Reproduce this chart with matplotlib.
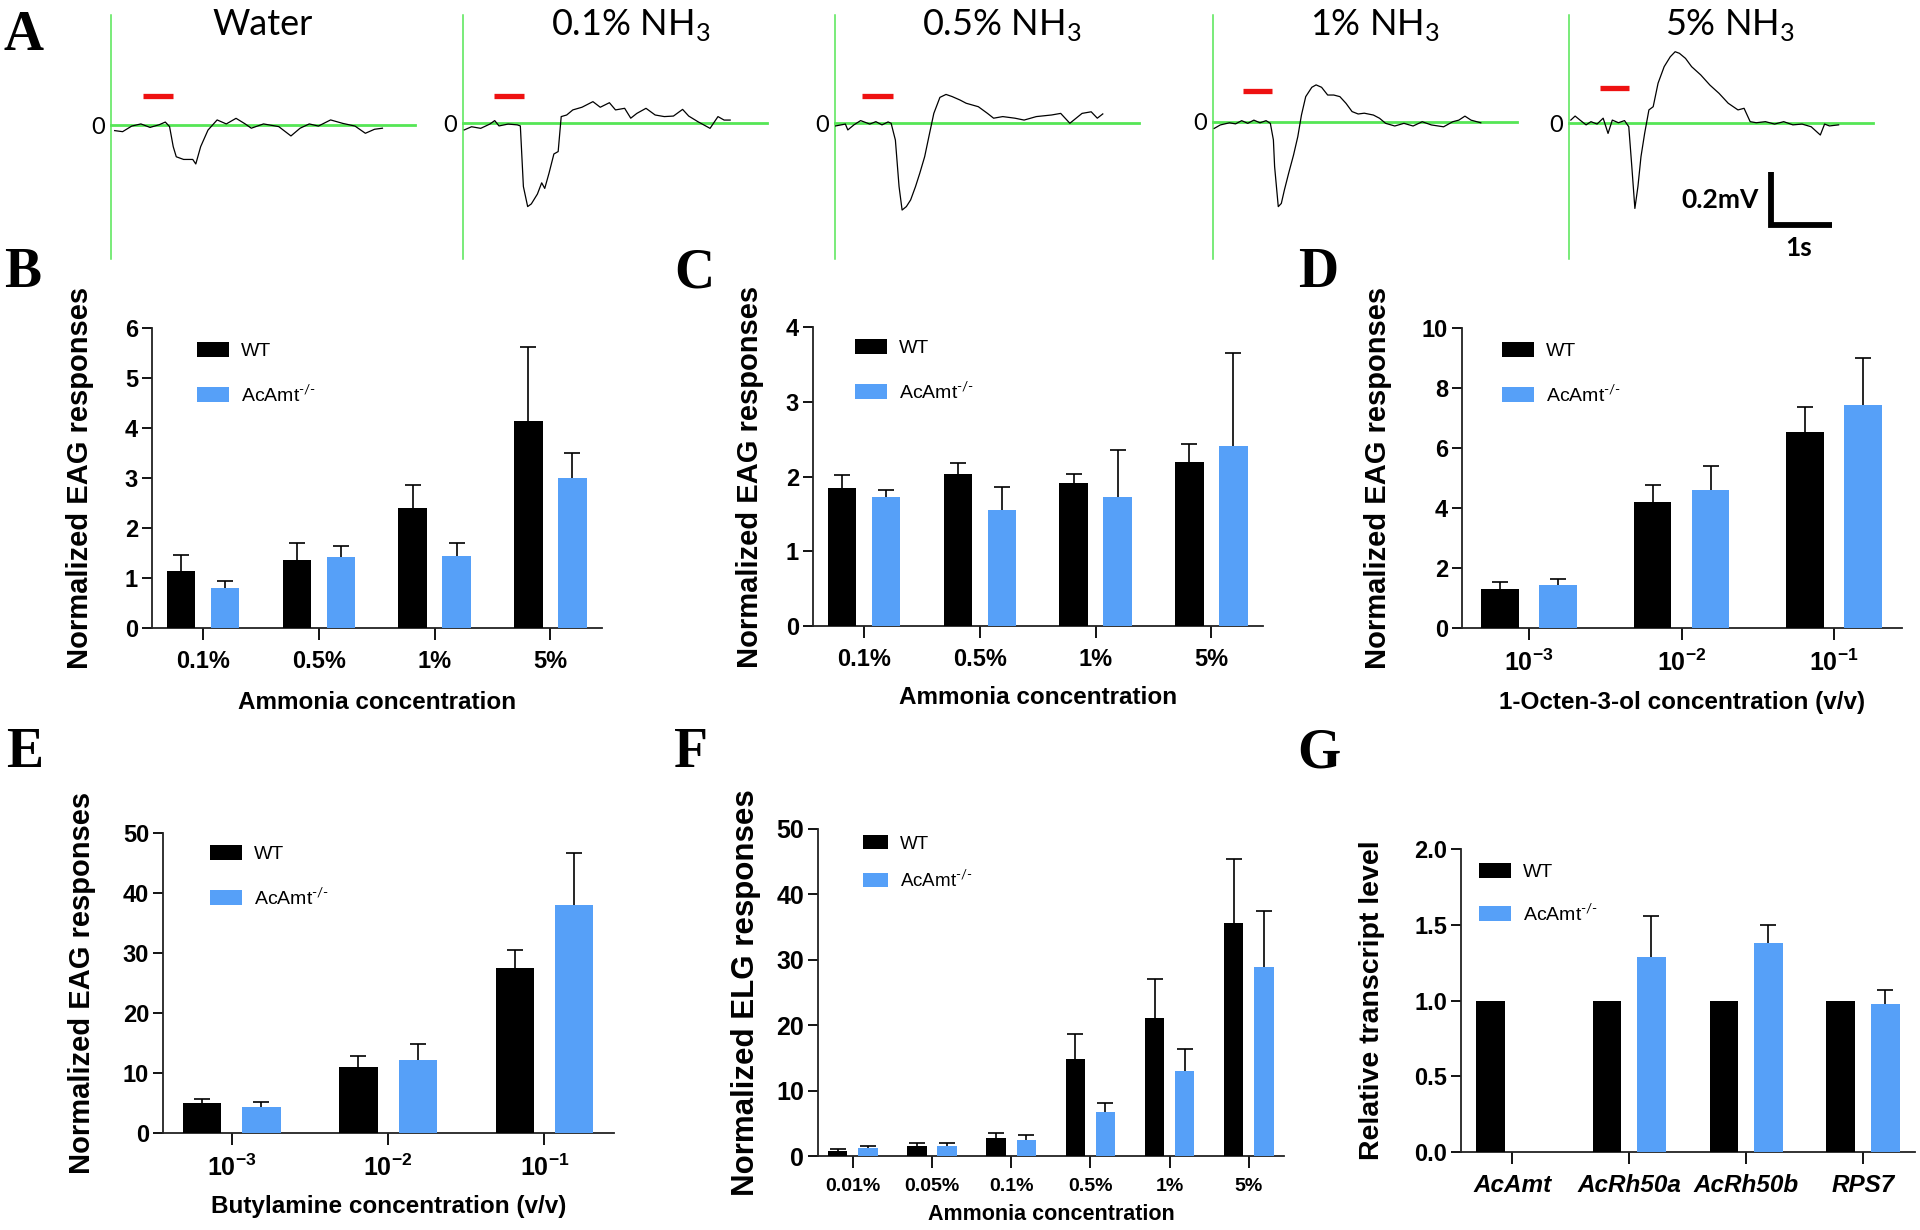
import matplotlib
matplotlib.use("Agg")
import matplotlib.pyplot as plt
import numpy as np

plt.rcParams['font.family'] = ['Liberation Sans', 'DejaVu Sans']
plt.rcParams['mathtext.fontset'] = 'custom'
plt.rcParams['mathtext.rm'] = 'Lato'
plt.rcParams['mathtext.bf'] = 'Liberation Sans:bold'
plt.rcParams['mathtext.sf'] = 'Liberation Sans'

# ---------------- data: panel A traces (time in s, voltage in mV) ----------------
TRACE_TITLES = ['Water', '0.1% NH$_\\mathrm{3}$', '0.5% NH$_\\mathrm{3}$', '1% NH$_\\mathrm{3}$', '5% NH$_\\mathrm{3}$']

WATER_T = [0.06, 0.19, 0.34, 0.49, 0.64, 0.79, 0.89, 0.96, 1.02, 1.07, 1.19, 1.34, 1.39, 1.47, 1.59, 1.74,
           1.89, 2.05, 2.20, 2.30, 2.50, 2.75, 2.95, 3.10, 3.25, 3.40, 3.60, 3.80, 4.00, 4.17, 4.32, 4.45]
WATER_V = [-0.021, -0.025, -0.004, 0.004, -0.009, 0.001, 0.011, -0.006, -0.081, -0.119, -0.129, -0.129,
           -0.146, -0.081, -0.019, 0.019, 0.004, 0.025, 0.004, -0.012, 0.004, -0.006, -0.041, -0.012,
           0.004, -0.004, 0.019, 0.006, -0.004, -0.031, -0.016, -0.012]

NH3_01_T = [0.02, 0.14, 0.29, 0.44, 0.52, 0.59, 0.74, 0.89, 0.94, 0.99, 1.06, 1.12, 1.22, 1.29, 1.34, 1.41,
            1.49, 1.56, 1.61, 1.70, 1.80, 1.95, 2.13, 2.25, 2.40, 2.50, 2.65, 2.75, 2.85, 3.00, 3.15, 3.30,
            3.45, 3.60, 3.70, 3.85, 4.05, 4.18, 4.28, 4.38]
NH3_01_V = [-0.026, -0.014, -0.020, -0.004, 0.009, -0.011, -0.004, -0.007, -0.011, -0.238, -0.313, -0.303,
            -0.266, -0.224, -0.245, -0.188, -0.116, -0.107, 0.024, 0.030, 0.049, 0.059, 0.080, 0.059, 0.076,
            0.049, 0.055, 0.018, 0.036, 0.055, 0.030, 0.024, 0.026, 0.051, 0.026, 0.005, -0.020, 0.024,
            0.011, 0.011]

NH3_05_T = [0.01, 0.17, 0.21, 0.31, 0.42, 0.57, 0.67, 0.77, 0.87, 0.92, 0.99, 1.05, 1.10, 1.17, 1.24, 1.32,
            1.39, 1.47, 1.55, 1.62, 1.72, 1.82, 1.92, 2.05, 2.15, 2.35, 2.50, 2.60, 2.75, 2.95, 3.10, 3.30,
            3.55, 3.70, 3.85, 4.05, 4.20, 4.30, 4.39]
NH3_05_V = [-0.011, -0.004, -0.026, -0.007, 0.009, -0.004, 0.005, -0.007, 0.004, -0.001, -0.064, -0.238,
            -0.326, -0.313, -0.288, -0.238, -0.188, -0.126, -0.039, 0.036, 0.096, 0.107, 0.099, 0.086,
            0.074, 0.061, 0.036, 0.018, 0.024, 0.018, 0.011, 0.024, 0.030, 0.036, -0.001, 0.036, 0.042,
            0.018, 0.034]

NH3_1_T = [0.02, 0.12, 0.27, 0.37, 0.47, 0.57, 0.67, 0.77, 0.87, 0.94, 0.99, 1.01, 1.07, 1.12, 1.17, 1.24,
           1.32, 1.39, 1.45, 1.52, 1.62, 1.69, 1.78, 1.88, 1.98, 2.08, 2.18, 2.28, 2.38, 2.48, 2.63, 2.73,
           2.83, 2.98, 3.13, 3.28, 3.43, 3.58, 3.78, 3.93, 4.03, 4.13, 4.23, 4.39]
NH3_1_V = [-0.024, -0.011, -0.003, -0.007, 0.005, -0.005, 0.007, -0.003, 0.005, -0.005, -0.067, -0.167,
           -0.317, -0.305, -0.255, -0.192, -0.124, -0.055, 0.026, 0.095, 0.130, 0.139, 0.130, 0.101, 0.101,
           0.095, 0.070, 0.039, 0.030, 0.033, 0.026, 0.014, -0.005, -0.015, -0.005, -0.015, 0.001, -0.011,
           -0.018, 0.001, 0.007, 0.022, 0.007, -0.003]

NH3_5_T = [0.03, 0.10, 0.18, 0.28, 0.36, 0.46, 0.56, 0.64, 0.71, 0.81, 0.91, 0.98, 1.03, 1.08, 1.13, 1.18,
           1.24, 1.31, 1.38, 1.46, 1.56, 1.66, 1.74, 1.81, 1.91, 2.01, 2.16, 2.31, 2.46, 2.61, 2.77, 2.87,
           2.97, 3.07, 3.22, 3.37, 3.52, 3.67, 3.82, 3.97, 4.12, 4.19, 4.27, 4.42]
NH3_5_V = [0.011, 0.026, 0.011, -0.007, 0.005, -0.004, 0.018, -0.039, 0.011, 0.001, 0.009, -0.014, -0.164,
           -0.320, -0.238, -0.126, -0.039, 0.049, 0.061, 0.149, 0.211, 0.248, 0.267, 0.261, 0.242, 0.211,
           0.180, 0.142, 0.111, 0.074, 0.049, 0.055, 0.005, 0.001, 0.005, -0.004, 0.005, -0.007, -0.004,
           -0.014, -0.045, -0.004, -0.011, -0.007]

TRACES_T = [WATER_T, NH3_01_T, NH3_05_T, NH3_1_T, NH3_5_T]
TRACES_V = [WATER_V, NH3_01_V, NH3_05_V, NH3_1_V, NH3_5_V]
STIM_ON = [0.52, 0.51, 0.44, 0.49, 0.51]
STIM_OFF = [1.02, 1.00, 0.95, 0.97, 0.98]
STIM_LEVEL = [0.109, 0.101, 0.101, 0.116, 0.131]

# ---------------- data: bar panels ----------------
B_CATS = ['0.1%', '0.5%', '1%', '5%']
B_WT = [1.15, 1.37, 2.41, 4.15]
B_WT_ERR = [0.31, 0.33, 0.46, 1.48]
B_KO = [0.81, 1.43, 1.45, 3.00]
B_KO_ERR = [0.14, 0.21, 0.25, 0.51]

C_CATS = ['0.1%', '0.5%', '1%', '5%']
C_WT = [1.85, 2.04, 1.91, 2.19]
C_WT_ERR = [0.17, 0.14, 0.12, 0.24]
C_KO = [1.73, 1.55, 1.73, 2.41]
C_KO_ERR = [0.09, 0.31, 0.62, 1.24]

D_CATS = [r'$\mathbf{10^{-3}}$', r'$\mathbf{10^{-2}}$', r'$\mathbf{10^{-1}}$']
D_WT = [1.30, 4.20, 6.54]
D_WT_ERR = [0.22, 0.58, 0.83]
D_KO = [1.44, 4.60, 7.43]
D_KO_ERR = [0.20, 0.81, 1.57]

E_CATS = [r'$\mathbf{10^{-3}}$', r'$\mathbf{10^{-2}}$', r'$\mathbf{10^{-1}}$']
E_WT = [4.94, 10.94, 27.44]
E_WT_ERR = [0.78, 1.89, 3.06]
E_KO = [4.28, 12.10, 37.94]
E_KO_ERR = [0.94, 2.73, 8.78]

F_CATS = ['0.01%', '0.05%', '0.1%', '0.5%', '1%', '5%']
F_WT = [0.82, 1.53, 2.70, 14.8, 21.1, 35.6]
F_WT_ERR = [0.20, 0.41, 0.82, 3.8, 6.0, 9.8]
F_KO = [1.28, 1.48, 2.50, 6.73, 12.96, 28.9]
F_KO_ERR = [0.30, 0.46, 0.66, 1.43, 3.37, 8.5]

G_CATS = ['AcAmt', 'AcRh50a', 'AcRh50b', 'RPS7']
G_WT = [1.0, 1.0, 1.0, 1.0]
G_WT_ERR = [0.0, 0.0, 0.0, 0.0]
G_KO = [0.0, 1.29, 1.38, 0.98]
G_KO_ERR = [0.0, 0.27, 0.12, 0.09]

SERIES_LABELS = ['WT', r'AcAmt$^{\text{-/-}}$']

# ---------------- layout / style ----------------
FIG_W, FIG_H = 1920, 1230
BLUE = '#56A0F8'
GREEN = '#55E655'
PX_PER_S = 61.0
PX_PER_MV = 267.0
BAR_W = 0.245
BAR_OFF = 0.19

fig = plt.figure(figsize=(FIG_W / 100, FIG_H / 100), dpi=100)


def px_axes(l, t, r, b):
    return fig.add_axes([l / FIG_W, 1 - b / FIG_H, (r - l) / FIG_W, (b - t) / FIG_H])


# ---- panel A ----
TRACE_X0 = [111, 463, 835, 1213, 1569]
TRACE_Y0 = [125, 123, 123, 122, 123]
TITLE_CX = [263, 631, 1002, 1375, 1730]
for i in range(5):
    x0, y0 = TRACE_X0[i], TRACE_Y0[i]
    top, bot, width = 8, 275, 330
    ax = px_axes(x0, top, x0 + width, bot)
    ax.set_xlim(0, width / PX_PER_S)
    ax.set_ylim((y0 - bot) / PX_PER_MV, (y0 - top) / PX_PER_MV)
    ax.patch.set_alpha(0)
    for s in ['top', 'right']:
        ax.spines[s].set_visible(False)
    ax.spines['left'].set_color(GREEN)
    ax.spines['left'].set_linewidth(1.1)
    ax.spines['left'].set_bounds((y0 - 259) / PX_PER_MV, (y0 - 15) / PX_PER_MV)
    ax.spines['bottom'].set_position(('data', 0))
    ax.spines['bottom'].set_color(GREEN)
    ax.spines['bottom'].set_linewidth(2.0)
    ax.spines['bottom'].set_bounds(0, 304 / PX_PER_S)
    ax.set_xticks([])
    ax.set_yticks([0], ['0'])
    ax.tick_params(axis='y', length=0, pad=4, labelsize=17)
    for lbl in ax.get_yticklabels():
        lbl.set_family(['Lato', 'DejaVu Sans'])
    ax.plot(TRACES_T[i], TRACES_V[i], color='black', lw=0.9, zorder=3)
    ax.hlines(STIM_LEVEL[i], STIM_ON[i], STIM_OFF[i], color='#EE1111', lw=3.8)
    fig.text(TITLE_CX[i] / FIG_W, 1 - 35 / FIG_H, TRACE_TITLES[i], ha='center', va='baseline',
             fontsize=26, family=['Lato', 'DejaVu Sans'])
    if i == 4:
        sb_t, sb_v = 3.31, -0.382
        ax.plot([sb_t, sb_t, sb_t + 1.0], [sb_v + 0.2, sb_v, sb_v], color='black', lw=4.2,
                solid_joinstyle='miter', solid_capstyle='butt')
        ax.text(sb_t - 0.2, sb_v + 0.094, '0.2mV', ha='right', va='center', fontsize=19,
                fontweight='bold', family=['Lato', 'DejaVu Sans'])
        ax.text(sb_t + 0.45, sb_v - 0.086, '1s', ha='center', va='center', fontsize=19,
                fontweight='bold', family=['Lato', 'DejaVu Sans'])


# ---- bar panels ----
def bar_panel(box, cats, wt, wte, ko, koe, ylim, yticks, ylabel, xlabel, ylab_cx, xlab_dy,
              leg_xy, tick_fs=17, ytick_fs=17, xlab_fs=17.5, ylab_fs=21, leg_fs=14, leg_hl=1.65,
              leg_ls=1.2, ytick_fmt=None, italic=False):
    l, t, r, b = box
    ax = px_axes(l, t, r, b)
    x = np.arange(len(cats))
    ax.bar(x - BAR_OFF, wt, BAR_W, color='black', label=SERIES_LABELS[0], zorder=3, linewidth=0)
    ax.bar(x + BAR_OFF, ko, BAR_W, color=BLUE, label=SERIES_LABELS[1], zorder=3, linewidth=0)
    for xs, vals, errs in [(x - BAR_OFF, wt, wte), (x + BAR_OFF, ko, koe)]:
        errs = np.asarray(errs)
        m = errs > 0
        if m.any():
            eb = ax.errorbar(np.asarray(xs)[m], np.asarray(vals)[m],
                             yerr=[np.zeros(m.sum()), errs[m]], fmt='none', ecolor='black',
                             elinewidth=1.2, capsize=5.5, capthick=1.2, zorder=2)
            eb[1][0].set_visible(False)
    ax.set_xlim(-0.44, len(cats) - 1 + 0.445)
    ax.set_ylim(*ylim)
    ax.set_yticks(yticks)
    if ytick_fmt:
        ax.set_yticklabels([ytick_fmt.format(v) for v in yticks])
    ax.set_xticks(x, cats)
    for s in ['top', 'right']:
        ax.spines[s].set_visible(False)
    for s in ['left', 'bottom']:
        ax.spines[s].set_linewidth(1.3)
        ax.spines[s].set_color('#222222')
    ax.tick_params(axis='y', direction='out', length=7, width=1.3, pad=3, labelsize=ytick_fs)
    ax.tick_params(axis='x', direction='out', length=8.5, width=1.3, pad=7, labelsize=tick_fs)
    for lbl in ax.get_yticklabels():
        lbl.set_fontweight('bold')
    for lbl in ax.get_xticklabels():
        lbl.set_fontweight('bold')
        if italic:
            lbl.set_fontstyle('italic')
    ax.set_ylabel(ylabel, fontsize=ylab_fs, fontweight='bold')
    ax.yaxis.label.set_va('center')
    ax.yaxis.set_label_coords((ylab_cx - l) / (r - l), 0.5)
    if xlabel:
        ax.set_xlabel(xlabel, fontsize=xlab_fs, fontweight='bold')
        ax.xaxis.label.set_va('center')
        ax.xaxis.set_label_coords(0.5, -xlab_dy / (b - t))
    ax.legend(loc='upper left', bbox_to_anchor=(leg_xy[0] / FIG_W, 1 - leg_xy[1] / FIG_H),
              bbox_transform=fig.transFigure, frameon=False, fontsize=leg_fs, borderpad=0,
              borderaxespad=0, handlelength=leg_hl, handleheight=0.78, labelspacing=leg_ls,
              handletextpad=0.6)
    return ax


bar_panel((152, 328, 602, 628), B_CATS, B_WT, B_WT_ERR, B_KO, B_KO_ERR, (0, 6), range(0, 7),
          'Normalized EAG responses', 'Ammonia concentration', 80, 74, (197, 342))
bar_panel((813, 327, 1263, 626), C_CATS, C_WT, C_WT_ERR, C_KO, C_KO_ERR, (0, 4), range(0, 5),
          'Normalized EAG responses', 'Ammonia concentration', 750, 72, (855, 339))
bar_panel((1462, 328, 1902, 628), D_CATS, D_WT, D_WT_ERR, D_KO, D_KO_ERR, (0, 10), range(0, 11, 2),
          'Normalized EAG responses', '1-Octen-3-ol concentration (v/v)', 1378, 74, (1502, 342),
          tick_fs=18)
bar_panel((163, 833, 614, 1133), E_CATS, E_WT, E_WT_ERR, E_KO, E_KO_ERR, (0, 50), range(0, 51, 10),
          'Normalized EAG responses', 'Butylamine concentration (v/v)', 82, 74, (210, 845),
          tick_fs=18)
bar_panel((818, 829, 1284, 1156), F_CATS, F_WT, F_WT_ERR, F_KO, F_KO_ERR, (0, 50), range(0, 51, 10),
          'Normalized ELG responses', 'Ammonia concentration', 746, 59, (863, 835),
          tick_fs=14, ytick_fs=18, xlab_fs=15.5, ylab_fs=22.5, leg_fs=13.5, leg_hl=1.35, leg_ls=0.85)
bar_panel((1461, 849, 1915, 1152), G_CATS, G_WT, G_WT_ERR, G_KO, G_KO_ERR, (0, 2.0),
          [0, 0.5, 1.0, 1.5, 2.0], 'Relative transcript level', None, 1372, 0, (1479, 863),
          ytick_fmt='{:.1f}', italic=True, leg_ls=1.1, tick_fs=17.5, ylab_fs=20.5)

# ---- panel letters ----
LETTERS = [('A', 4, 50), ('B', 4, 287), ('C', 674, 287), ('D', 1298, 287),
           ('E', 6, 767), ('F', 674, 767), ('G', 1297, 767)]
for letter, lx, ly in LETTERS:
    fig.text(lx / FIG_W, 1 - ly / FIG_H, letter, fontsize=40, fontweight='bold',
             family=['Liberation Serif', 'DejaVu Serif'], ha='left', va='baseline')

fig.savefig('out.png', dpi=100)
